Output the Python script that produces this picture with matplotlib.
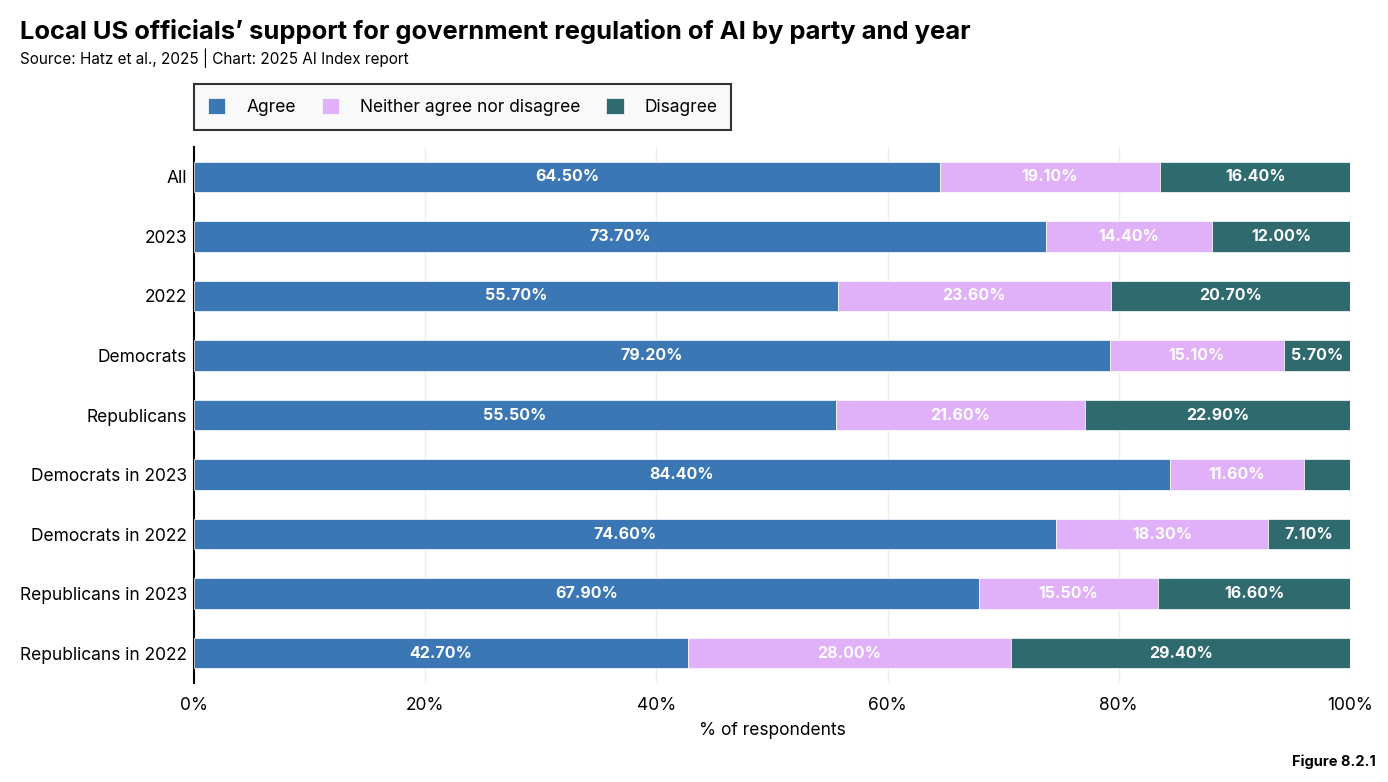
import matplotlib
matplotlib.use("Agg")
import matplotlib.pyplot as plt
from matplotlib.ticker import FuncFormatter

plt.rcParams["font.family"] = ["Inter", "DejaVu Sans"]

categories = ["All", "2023", "2022", "Democrats", "Republicans",
              "Democrats in 2023", "Democrats in 2022",
              "Republicans in 2023", "Republicans in 2022"]
agree = [64.5, 73.7, 55.7, 79.2, 55.5, 84.4, 74.6, 67.9, 42.7]
neither = [19.1, 14.4, 23.6, 15.1, 21.6, 11.6, 18.3, 15.5, 28.0]
disagree = [16.4, 12.0, 20.7, 5.7, 22.9, 4.0, 7.1, 16.6, 29.4]

series = [("Agree", agree, "#3b76b5"),
          ("Neither agree nor disagree", neither, "#e0b0f8"),
          ("Disagree", disagree, "#2f6a6f")]

fig = plt.figure(figsize=(13.88, 7.82), dpi=100)
ax = fig.add_axes([0.1398, 0.1266, 0.8328, 0.6854])

y = list(range(len(categories)))
left = [0.0] * len(categories)
for name, vals, col in series:
    bars = ax.barh(y, vals, left=left, height=0.51, color=col, label=name,
                   edgecolor="white", linewidth=0.5, zorder=3)
    for b, v in zip(bars, vals):
        if v >= 5:
            ax.text(b.get_x() + b.get_width() / 2, b.get_y() + b.get_height() / 2,
                    f"{v:.2f}%", ha="center", va="center", color="white",
                    fontsize=11.5, fontweight="bold", zorder=4)
    left = [l + v for l, v in zip(left, vals)]

ax.set_xlim(0, 100)
ax.set_ylim(len(categories) - 0.5, -0.5)
ax.set_yticks(y)
ax.set_yticklabels(categories, fontsize=12.5)
ax.set_xticks([0, 20, 40, 60, 80, 100])
ax.xaxis.set_major_formatter(FuncFormatter(lambda v, p: f"{v:.0f}%"))
ax.tick_params(axis="x", length=0, labelsize=12.5, pad=10)
ax.tick_params(axis="y", length=0, pad=5)
ax.grid(axis="x", color="#eeeeee", linewidth=1, zorder=0)
for s in ["top", "right", "bottom"]:
    ax.spines[s].set_visible(False)
ax.spines["left"].set_linewidth(1.5)
ax.spines["left"].set_color("black")
ax.set_xlabel("% of respondents", fontsize=12.5, labelpad=6)

leg = ax.legend(loc="lower left", bbox_to_anchor=(0.0, 1.032), ncol=3,
                frameon=True, fancybox=False, fontsize=12.5, borderaxespad=0,
                handlelength=1.0, handleheight=1.0, columnspacing=1.5,
                borderpad=0.8, handletextpad=1.2)
leg.get_frame().set_edgecolor("black")
leg.get_frame().set_linewidth(1.5)
leg.get_frame().set_facecolor("#f8f8f8")

fig.text(20 / 1388, 1 - 32 / 782, "Local US officials\u2019 support for government regulation of AI by party and year",
         fontsize=18.4, fontweight="bold", va="center", ha="left")
fig.text(20 / 1388, 1 - 58 / 782, "Source: Hatz et al., 2025 | Chart: 2025 AI Index report",
         fontsize=11, va="center", ha="left")
fig.text(1376 / 1388, 1 - 762 / 782, "Figure 8.2.1", fontsize=10.5, fontweight="bold",
         va="center", ha="right")

fig.savefig("out.png", dpi=100)
